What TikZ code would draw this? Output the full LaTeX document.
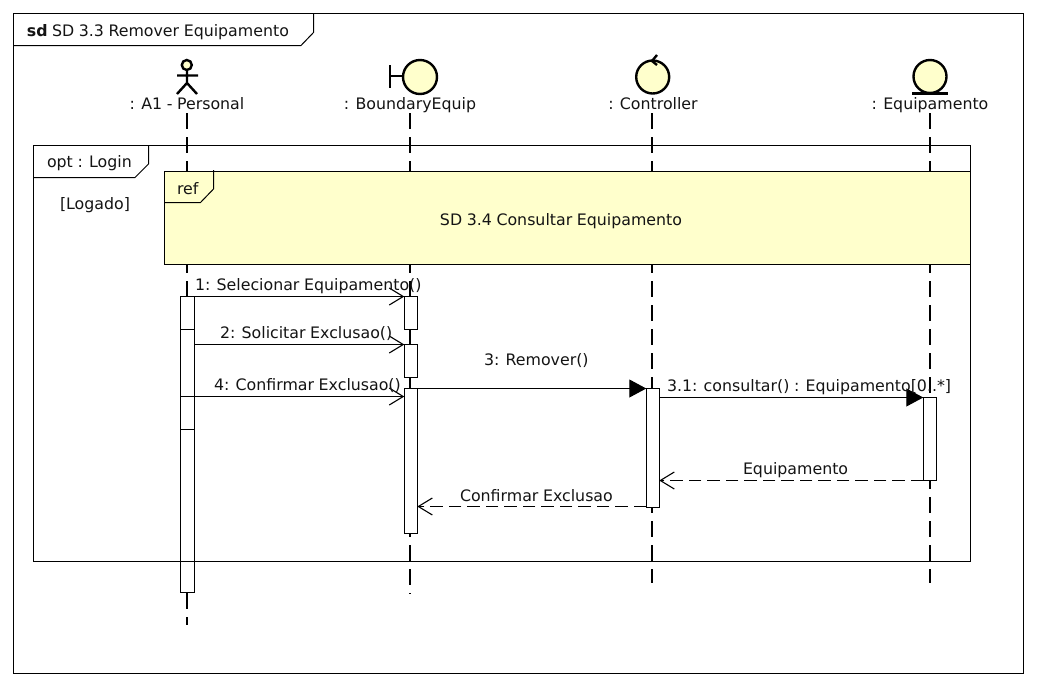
\documentclass[tikz,border=0pt]{standalone}
\usepackage{fontspec}
\setmainfont[WordSpace=0.92]{DejaVu Sans}
\usetikzlibrary{arrows.meta,calc}
\definecolor{umlyellow}{HTML}{FFFFCC}
\definecolor{ink}{HTML}{141414}
\tikzset{
  frameline/.style={draw=black,line width=1pt},
  lbl/.style={inner sep=0pt,outer sep=0pt,text=ink,font=\fontsize{15.8}{19}\selectfont,anchor=base},
  lblw/.style={lbl,anchor=base west},
  lifeline/.style={draw=black,line width=1.2pt,dash pattern=on 16pt off 8pt},
  actbar/.style={draw=black,fill=white,line width=1pt,minimum width=13pt,inner sep=0pt,outer sep=0pt},
  icon/.style={draw=black,fill=umlyellow,line width=2.4pt},
  iconline/.style={draw=black,line width=2.4pt},
  syncmsg/.style={draw=black,line width=1.1pt,-{Triangle[length=17pt,width=18pt]}},
  openmsg/.style={draw=black,line width=1.1pt,-{Straight Barb[length=14pt,width=17pt,line width=1.1pt]}},
  retmsg/.style={openmsg,dash pattern=on 12.5pt off 6pt},
}
\newcommand{\barnode}[4]{\node[actbar,minimum height=#4pt-#3pt,anchor=north] (#1) at (#2,#3) {};}
\newcommand{\widebar}[4]{\node[actbar,minimum width=13.8pt,minimum height=#4pt-#3pt,anchor=north] (#1) at (#2,#3) {};}
\begin{document}
\begin{tikzpicture}[x=1pt,y=-1pt]
\useasboundingbox (0,0) rectangle (1037,686);
\fill[white] (0,0) rectangle (1037,686);
% outer frame
\draw[frameline] (13.5,13.5) rectangle (1023.5,673.5);
\draw[frameline] (13.5,45.5) -- (301,45.5) -- (313.5,32.5) -- (313.5,13.5);
\node[lblw,font=\fontsize{15.8}{19}\selectfont\bfseries] (sdkw) at (27,36) {sd};
\node[lblw] (sdtitle) at (52,36) {SD 3.3 Remover Equipamento};
% lifeline anchors
\coordinate (ta) at (187,113); \coordinate (ea) at (187,625);
\coordinate (tb) at (410,113); \coordinate (eb) at (410,594);
\coordinate (tc) at (652,113); \coordinate (ec) at (652,583);
\coordinate (te) at (930,113); \coordinate (ee) at (930,583);
\draw[lifeline] (ta) -- (ea);
\draw[lifeline] (tb) -- (eb);
\draw[lifeline] (tc) -- (ec);
\draw[lifeline] (te) -- (ee);
% actor
\draw[iconline] (187,70.5) -- (187,83) (177,75.5) -- (198,75.5) (177,94) -- (187,83) -- (197,94);
\draw[icon] (186.8,65) circle[radius=5];
% boundary
\draw[iconline] (390,65) -- (390,87.5) (390,76) -- (402,76);
\draw[icon] (420,77) circle[radius=17];
% controller
\draw[icon] (652.7,77) circle[radius=16.5];
\draw[iconline] (657,55) -- (652,61) -- (657,65);
% entity
\draw[icon] (930,76.5) circle[radius=16.5];
\draw[iconline] (912,93.5) -- (948,93.5);
% actor labels
\node[lbl] (la) at (187,109) {: A1 - Personal};
\node[lbl] (lb) at (410,109) {: BoundaryEquip};
\node[lbl] (lc) at (653,109) {: Controller};
\node[lbl] (le) at (930,109) {: Equipamento};
% opt frame
\draw[frameline] (33.5,145.5) rectangle (970.5,561);
\draw[frameline] (33.5,177.5) -- (135,177.5) -- (148.5,164) -- (148.5,145.5);
\node[lblw] (optl) at (47,167) {opt : Login};
\node[lblw] (guard) at (60,209) {[Logado]};
% ref
\draw[frameline,fill=umlyellow] (164.5,171.5) rectangle (970.5,264.5);
\draw[frameline] (164.5,202.5) -- (200.5,202.5) -- (213.5,189) -- (213.5,170);
\node[lblw] (refl) at (177,194.5) {ref};
\node[lbl] (reft) at (561,225.5) {SD 3.4 Consultar Equipamento};
% activation bars
\widebar{a1}{187.4}{296.5}{329.5}
\widebar{a2}{187.4}{329.5}{396.5}
\widebar{a3}{187.4}{396.5}{429.5}
\widebar{a4}{187.4}{429.5}{592.5}
\barnode{b1}{410.8}{296.5}{329.5}
\barnode{b2}{410.8}{344.5}{377.5}
\barnode{b3}{410.8}{388.5}{533.5}
\barnode{c1}{652.75}{388.5}{507.5}
\barnode{e1}{929.75}{397.5}{480.5}
\draw[frameline] (33.5,561) -- (970.5,561);
% messages
\draw[openmsg] (a1.north east) -- (b1.north west);
\draw[openmsg] (a2.east |- b2.north) -- (b2.north west);
\draw[openmsg] (a3.north east) -- (b3.west |- a3.north);
\draw[syncmsg] (b3.north east) -- (c1.north west);
\draw[syncmsg] (c1.east |- e1.north) -- (e1.north west);
\draw[retmsg] (e1.south west) -- (c1.east |- e1.south);
\coordinate (r2) at ($(c1.south west)+(0,-1)$);
\draw[retmsg] (r2) -- (b3.east |- r2);
% message labels
\node[lblw] (m1) at (195,290) {1: Selecionar Equipamento()};
\node[lblw] (m2) at (220,338) {2: Solicitar Exclusao()};
\node[lblw] (m3) at (484,365) {3: Remover()};
\node[lblw] (m4) at (214,390) {4: Confirmar Exclusao()};
\node[lblw] (m31) at (667,391.5) {3.1: consultar() : Equipamento[0..*]};
\node[lblw] (m5) at (743,474.5) {Equipamento};
\node[lblw] (m6) at (460,501.5) {Confirmar Exclusao};
\end{tikzpicture}
\end{document}
